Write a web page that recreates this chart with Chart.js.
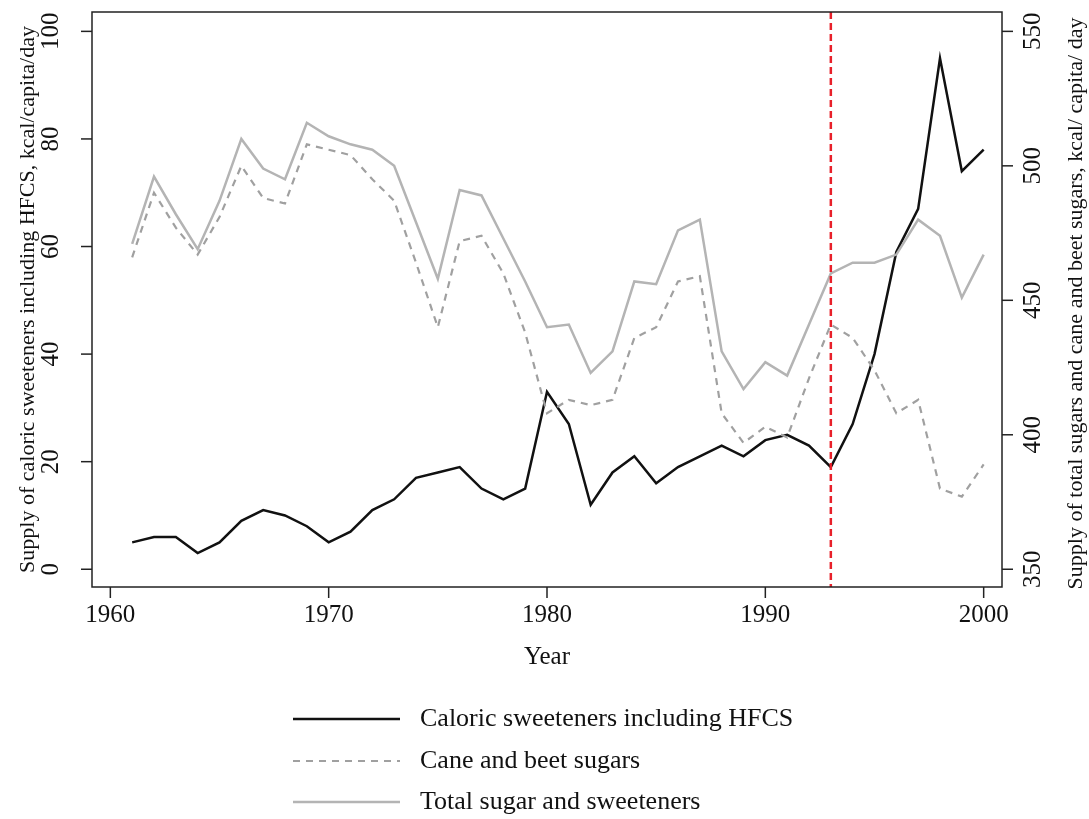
<!DOCTYPE html>
<html>
<head>
<meta charset="utf-8">
<script src="https://cdn.jsdelivr.net/npm/chart.js@4.4.0/dist/chart.umd.min.js"></script>
<style>
  body { margin: 0; background: #fff; }
  #wrap { width: 1089px; height: 819px; position: relative; }
</style>
</head>
<body>
<div id="wrap"><canvas id="chart"></canvas></div>
<script>
// data
const years = [1961, 1962, 1963, 1964, 1965, 1966, 1967, 1968, 1969, 1970,
               1971, 1972, 1973, 1974, 1975, 1976, 1977, 1978, 1979, 1980,
               1981, 1982, 1983, 1984, 1985, 1986, 1987, 1988, 1989, 1990,
               1991, 1992, 1993, 1994, 1995, 1996, 1997, 1998, 1999, 2000];
const hfcs = [5, 6, 6, 3, 5, 9, 11, 10, 8, 5,
              7, 11, 13, 17, 18, 19, 15, 13, 15, 33,
              27, 12, 18, 21, 16, 19, 21, 23, 21, 24,
              25, 23, 19, 27, 40, 59, 67, 95, 74, 78];
const caneBeet = [466, 490, 477, 467, 481, 500, 488, 486, 508, 506,
                  504, 495, 487, 464, 440, 472, 474, 460, 438, 408,
                  413, 411, 413, 436, 440, 457, 459, 408, 397, 403,
                  399, 421, 441, 436, 424, 408, 413, 380, 377, 389];
const totalSugar = [471, 496, 482, 469, 487, 510, 499, 495, 516, 511,
                    508, 506, 500, 479, 458, 491, 489, 473, 457, 440,
                    441, 423, 431, 457, 456, 476, 480, 431, 417, 427,
                    422, 441, 460, 464, 464, 467, 480, 474, 451, 467];
const xTicks = [1960, 1970, 1980, 1990, 2000];
const leftTicks = [0, 20, 40, 60, 80, 100];
const rightTicks = [350, 400, 450, 500, 550];
const markYear = 1993;

const seriesNames = ["Caloric sweeteners including HFCS", "Cane and beet sugars", "Total sugar and sweeteners"];

function pts(vals) {
    return years.map((yr, i) => ({ x: yr, y: vals[i] }));
}

const serif = '"Liberation Serif", "Times New Roman", serif';

// R-style box, ticks, titles and legend
const framePlugin = {
    id: "frame",
    afterDraw(chart) {
        const ctx = chart.ctx;
        const a = chart.chartArea;
        const sx = chart.scales.x, sl = chart.scales.y, sr = chart.scales.y2;
        ctx.save();

        // red marker line
        const mx = sx.getPixelForValue(markYear);
        ctx.strokeStyle = "#e8202a";
        ctx.lineWidth = 2.5;
        ctx.setLineDash([7, 4]);
        ctx.beginPath();
        ctx.moveTo(mx, a.top);
        ctx.lineTo(mx, a.bottom);
        ctx.stroke();
        ctx.setLineDash([]);

        // box
        ctx.strokeStyle = "#222";
        ctx.lineWidth = 1.5;
        ctx.strokeRect(a.left, a.top, a.right - a.left, a.bottom - a.top);

        ctx.fillStyle = "#111";
        ctx.font = "25px " + serif;

        // x ticks
        ctx.textAlign = "center";
        ctx.textBaseline = "top";
        xTicks.forEach(t => {
            const px = sx.getPixelForValue(t);
            ctx.beginPath();
            ctx.moveTo(px, a.bottom);
            ctx.lineTo(px, a.bottom + 11);
            ctx.stroke();
            ctx.fillText(String(t), px, 603);
        });

        // left ticks
        leftTicks.forEach(t => {
            const py = sl.getPixelForValue(t);
            ctx.beginPath();
            ctx.moveTo(a.left, py);
            ctx.lineTo(a.left - 11, py);
            ctx.stroke();
            ctx.save();
            ctx.translate(51, py);
            ctx.rotate(-Math.PI / 2);
            ctx.textBaseline = "middle";
            ctx.fillText(String(t), 0, 0);
            ctx.restore();
        });

        // right ticks
        rightTicks.forEach(t => {
            const py = sr.getPixelForValue(t);
            ctx.beginPath();
            ctx.moveTo(a.right, py);
            ctx.lineTo(a.right + 11, py);
            ctx.stroke();
            ctx.save();
            ctx.translate(1033, py);
            ctx.rotate(-Math.PI / 2);
            ctx.textBaseline = "middle";
            ctx.fillText(String(t), 0, 0);
            ctx.restore();
        });

        // axis titles
        ctx.fillText("Year", 547, 645);
        const midY = (a.top + a.bottom) / 2;
        ctx.font = "22px " + serif;
        ctx.save();
        ctx.translate(28, midY);
        ctx.rotate(-Math.PI / 2);
        ctx.textBaseline = "middle";
        ctx.fillText("Supply of caloric sweeteners including HFCS, kcal/capita/day", 0, 0);
        ctx.restore();
        ctx.save();
        ctx.translate(1076, midY + 4);
        ctx.rotate(-Math.PI / 2);
        ctx.textBaseline = "middle";
        ctx.fillText("Supply of total sugars and cane and beet sugars, kcal/ capita/ day", 0, 0);
        ctx.restore();

        // legend
        const rows = [719, 761, 802];
        const order = [2, 1, 0]; // dataset index for each legend row
        ctx.font = "26px " + serif;
        ctx.textAlign = "left";
        ctx.textBaseline = "middle";
        rows.forEach((ry, i) => {
            const ds = chart.data.datasets[order[i]];
            ctx.strokeStyle = ds.borderColor;
            ctx.lineWidth = ds.borderWidth;
            ctx.setLineDash(ds.borderDash || []);
            ctx.beginPath();
            ctx.moveTo(293, ry);
            ctx.lineTo(400, ry);
            ctx.stroke();
            ctx.setLineDash([]);
            ctx.fillStyle = "#111";
            ctx.fillText(ds.label, 420, ry);
        });

        ctx.restore();
    }
};

new Chart(document.getElementById("chart"), {
    type: "line",
    data: {
        datasets: [
            {
                label: seriesNames[2],
                data: pts(totalSugar),
                yAxisID: "y2",
                borderColor: "#b4b4b4",
                borderWidth: 2.5,
                pointRadius: 0,
                tension: 0
            },
            {
                label: seriesNames[1],
                data: pts(caneBeet),
                yAxisID: "y2",
                borderColor: "#a0a0a0",
                borderWidth: 2.2,
                borderDash: [7, 6],
                pointRadius: 0,
                tension: 0
            },
            {
                label: seriesNames[0],
                data: pts(hfcs),
                yAxisID: "y",
                borderColor: "#111",
                borderWidth: 2.5,
                pointRadius: 0,
                tension: 0
            }
        ]
    },
    options: {
        responsive: true,
        maintainAspectRatio: false,
        animation: false,
        layout: { padding: { left: 92, right: 87, top: 12, bottom: 232 } },
        plugins: { legend: { display: false }, tooltip: { enabled: false } },
        scales: {
            x: { type: "linear", min: 1959.16, max: 2000.84, display: false },
            y: { type: "linear", min: -3.3, max: 103.6, display: false },
            y2: { type: "linear", position: "right", min: 343.4, max: 557.2, display: false }
        }
    },
    plugins: [framePlugin]
});
</script>
</body>
</html>
